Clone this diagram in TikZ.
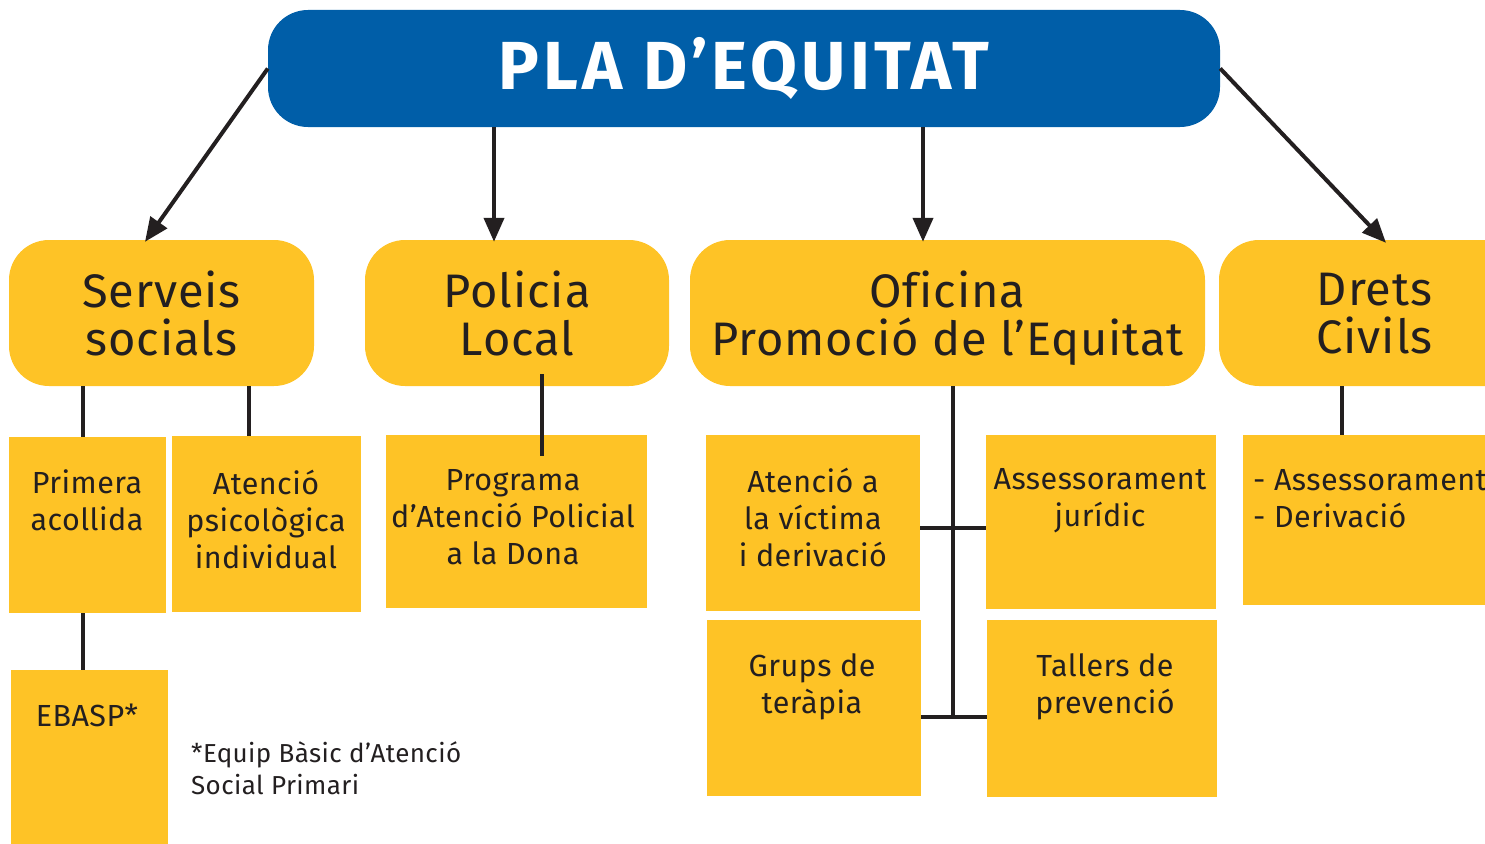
\documentclass[tikz,border=0pt]{standalone}
\usepackage{fontspec}
\setmainfont{Fira Sans}[Ligatures=NoCommon]
\newfontfamily\headfont{Fira Sans}[LetterSpace=2,Ligatures=NoCommon]
\newfontfamily\subfont{Fira Sans}[LetterSpace=1.5,Ligatures=NoCommon]
\newfontfamily\titlefont{Fira Sans}[LetterSpace=6,Ligatures=NoCommon]
\usetikzlibrary{arrows.meta}
\definecolor{pblue}{HTML}{005EA8}
\definecolor{pyel}{HTML}{FEC326}
\definecolor{pdark}{HTML}{231F20}
\begin{document}
\begin{tikzpicture}[x=1pt,y=-1pt,
 head/.style={fill=pyel, rounded corners=40pt, inner sep=0pt, text=pdark, font=\headfont\fontsize{47}{48}\selectfont, align=center, text depth=0pt},
 subbox/.style={fill=pyel, inner sep=0pt},
 subtxt/.style={text=pdark, font=\subfont\fontsize{30.5}{37}\selectfont, align=center, inner sep=0pt, anchor=north},
 conn/.style={draw=pdark, line width=4pt},
 arr/.style={conn, -{Triangle[length=24pt,width=20pt]}}]
\useasboundingbox (0,0) rectangle (1485,843);
\clip (0,0) rectangle (1485,843);
% title
\node[fill=pblue, rounded corners=40pt, minimum width=952pt, minimum height=117pt, inner sep=0pt, text=white, font=\titlefont\fontsize{68}{70}\selectfont\bfseries] (title) at (744,68.5) {PLA D’EQUITAT};
% headers
\node[head, minimum width=305pt, minimum height=146pt] (ss) at (161.5,313) {Serveis\\socials};
\node[head, minimum width=304pt, minimum height=146pt] (pl) at (517,313) {Policia\\Local};
\node[head, minimum width=515pt, minimum height=146pt] (of) at (947.5,313) {Oficina\\Promoció de l’Equitat};
\node[head, minimum width=311pt, minimum height=146pt] (dc) at (1374.5,313) {Drets\\Civils};
% sub boxes
\node[subbox, minimum width=157pt, minimum height=176pt] (pa) at (87.5,525) {};
\node[subtxt] (pat) at (87,470) {Primera\\acollida};
\node[subbox, minimum width=189pt, minimum height=176pt] (ap) at (266.5,524) {};
\node[subtxt] (apt) at (266,470) {Atenció\\psicològica\\individual};
\node[subbox, minimum width=261pt, minimum height=173pt] (pr) at (516.5,521.5) {};
\node[subtxt] (prt) at (513,469) {Programa\\d’Atenció Policial\\a la Dona};
\node[subbox, minimum width=157pt, minimum height=180pt] (eb) at (89.5,760) {};
\node[subtxt] (ebt) at (87,704) {EBASP*};
\node[text=pdark, font=\subfont\fontsize{26}{32}\selectfont, align=left, inner sep=0pt, anchor=north west] (fn) at (191,741) {*Equip Bàsic d’Atenció\\Social Primari};
\node[subbox, minimum width=214pt, minimum height=176pt] (av) at (813,523) {};
\node[subtxt] (avt) at (813,468) {Atenció a\\la víctima\\i derivació};
\node[subbox, minimum width=230pt, minimum height=174pt] (as) at (1101,522) {};
\node[subtxt] (ast) at (1100,468) {Assessorament\\jurídic};
\node[subbox, minimum width=214pt, minimum height=176pt] (gt) at (814,708) {};
\node[subtxt] (gtt) at (812,653) {Grups de\\teràpia};
\node[subbox, minimum width=230pt, minimum height=177pt] (tp) at (1102,708.5) {};
\node[subtxt] (tpt) at (1105,653) {Tallers de\\prevenció};
\node[subbox, minimum width=260pt, minimum height=170pt] (dd) at (1373,520) {};
\node[text=pdark, font=\subfont\fontsize{30.5}{37}\selectfont, align=left, inner sep=0pt, anchor=north west] (ddt) at (1253,469) {- Assessorament\\- Derivació};
% arrows
\coordinate (a1) at ([xshift=-16.5pt,yshift=-2pt]ss.north);
\draw[arr] (title.west) -- (a1);
\coordinate (a2) at ([xshift=-23pt,yshift=-2pt]pl.north);
\draw[arr] (title.south -| a2) -- (a2);
\coordinate (a3) at ([xshift=-24.5pt,yshift=-2pt]of.north);
\draw[arr] (title.south -| a3) -- (a3);
\coordinate (a4) at ([xshift=11.5pt,yshift=-3pt]dc.north);
\draw[arr] (title.east) -- (a4);
% tree lines
\draw[conn] (ss.south -| 83,0) -- (pa.north -| 83,0);
\draw[conn] (ss.south -| 249,0) -- (ap.north -| 249,0);
\draw[conn] (pa.south -| 83,0) -- (eb.north -| 83,0);
\coordinate (p1) at (542,374);
\coordinate (p2) at (542,456);
\draw[conn] (p1) -- (p2);
\coordinate (ob) at (953,717);
\draw[conn] (of.south -| ob) -- (ob);
\draw[conn] (av.east |- 0,528) -- (as.west |- 0,528);
\draw[conn] (gt.east |- ob) -- (tp.west |- ob);
\draw[conn] (dc.south -| 1342,0) -- (dd.north -| 1342,0);
\end{tikzpicture}
\end{document}
